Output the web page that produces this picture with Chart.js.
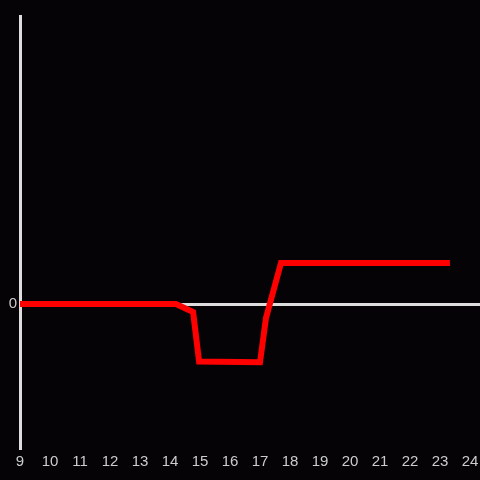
<!DOCTYPE html>
<html>
<head>
<meta charset="utf-8">
<script src="https://cdn.jsdelivr.net/npm/chart.js@4"></script>
<style>
html,body{margin:0;padding:0;background:#050306;}
#wrap{width:480px;height:480px;}
</style>
</head>
<body>
<div id="wrap"><canvas id="c" width="480" height="480"></canvas></div>
<script>
const xValues = [9, 14.2, 14.77, 14.97, 17.0, 17.2, 17.7, 23.33];
const yValues = [0, 0, -0.56, -4.0, -4.05, -0.97, 2.85, 2.85];
const xTicks = [9,10,11,12,13,14,15,16,17,18,19,20,21,22,23,24];
const yTicks = [0];

const bg = {
  id: 'bg',
  beforeDraw(chart) {
    const ctx = chart.ctx;
    ctx.save();
    ctx.fillStyle = '#050306';
    ctx.fillRect(0, 0, chart.width, chart.height);
    ctx.restore();
  }
};

new Chart(document.getElementById('c'), {
  type: 'line',
  data: {
    datasets: [{
      data: xValues.map((x, i) => ({x: x, y: yValues[i]})),
      borderColor: '#ff0000',
      borderWidth: 6,
      pointRadius: 0,
      tension: 0,
      fill: false,
      borderCapStyle: 'butt',
      borderJoinStyle: 'miter'
    }]
  },
  options: {
    responsive: false,
    animation: false,
    layout: {padding: {top: 16, right: 0, left: 0, bottom: 0}},
    plugins: {legend: {display: false}, tooltip: {enabled: false}},
    scales: {
      x: {
        type: 'linear',
        min: 9,
        max: 24.333,
        afterBuildTicks(s) { s.ticks = xTicks.map(v => ({value: v})); },
        afterFit(s) { s.height = 32; s.paddingRight = 0; s.paddingLeft = 0; },
        grid: {display: false, drawTicks: false},
        border: {display: false},
        ticks: {color: '#cccccc', font: {family: 'Liberation Sans', size: 15}, padding: 5, maxRotation: 0, autoSkip: false}
      },
      y: {
        type: 'linear',
        min: -10,
        max: 20,
        afterBuildTicks(s) { s.ticks = yTicks.map(v => ({value: v})); },
        afterFit(s) { s.width = 20; s.paddingTop = 0; s.paddingBottom = 0; },
        grid: {display: true, color: '#dddddd', lineWidth: 3, drawTicks: false},
        border: {display: true, color: '#dddddd', width: 3},
        ticks: {color: '#cccccc', font: {family: 'Liberation Sans', size: 15}, padding: 3}
      }
    }
  },
  plugins: [bg]
});
</script>
</body>
</html>
